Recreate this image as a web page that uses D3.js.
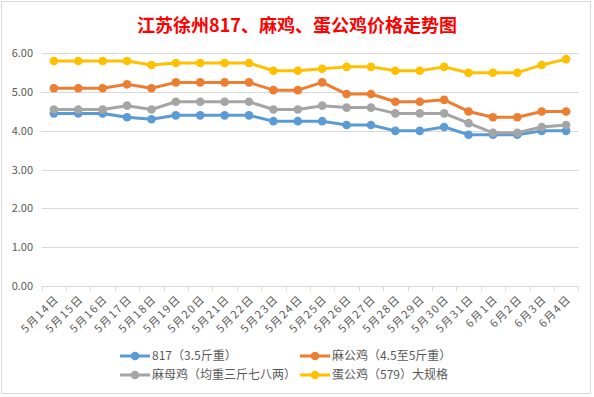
<!DOCTYPE html>
<html>
<head>
<meta charset="utf-8">
<script src="https://cdn.jsdelivr.net/npm/d3@7"></script>
<style>
  body { margin: 0; background: #fff; }
  text { font-family: "Noto Sans CJK SC", "Noto Sans", sans-serif; }
</style>
</head>
<body>
<svg width="594" height="397"></svg>
<script>
const width = 594;
const height = 397;

const title = "江苏徐州817、麻鸡、蛋公鸡价格走势图";

const dates = ["5月14日", "5月15日", "5月16日", "5月17日", "5月18日", "5月19日", "5月20日",
  "5月21日", "5月22日", "5月23日", "5月24日", "5月25日", "5月26日", "5月27日", "5月28日",
  "5月29日", "5月30日", "5月31日", "6月1日", "6月2日", "6月3日", "6月4日"];

const seriesNames = ["817（3.5斤重）", "麻公鸡（4.5至5斤重）", "麻母鸡（均重三斤七八两）", "蛋公鸡（579）大规格"];

const price817 = [4.45, 4.45, 4.45, 4.35, 4.3, 4.4, 4.4, 4.4, 4.4, 4.25, 4.25,
  4.25, 4.15, 4.15, 4.0, 4.0, 4.1, 3.9, 3.9, 3.9, 4.0, 4.0];
const priceMaGong = [5.1, 5.1, 5.1, 5.2, 5.1, 5.25, 5.25, 5.25, 5.25, 5.05, 5.05,
  5.25, 4.95, 4.95, 4.75, 4.75, 4.8, 4.5, 4.35, 4.35, 4.5, 4.5];
const priceMaMu = [4.55, 4.55, 4.55, 4.65, 4.55, 4.75, 4.75, 4.75, 4.75, 4.55, 4.55,
  4.65, 4.6, 4.6, 4.45, 4.45, 4.45, 4.2, 3.95, 3.95, 4.1, 4.15];
const priceDanGong = [5.8, 5.8, 5.8, 5.8, 5.7, 5.75, 5.75, 5.75, 5.75, 5.55, 5.55,
  5.6, 5.65, 5.65, 5.55, 5.55, 5.65, 5.5, 5.5, 5.5, 5.7, 5.85];

const yTicks = [0, 1, 2, 3, 4, 5, 6];

const allSeries = [price817, priceMaGong, priceMaMu, priceDanGong];
const colors = ["#5b9bd5", "#ed7d31", "#a5a5a5", "#ffc000"];

const svg = d3.select("svg");

// chart frame
svg.append("rect")
  .attr("x", 1.5).attr("y", 1.5)
  .attr("width", 589).attr("height", 392)
  .attr("fill", "#fff")
  .attr("stroke", "#d9d9d9");

svg.append("text")
  .attr("x", 297).attr("y", 32)
  .attr("text-anchor", "middle")
  .attr("font-size", 18)
  .attr("font-weight", "bold")
  .attr("fill", "#ff0000")
  .text(title);

const x = d3.scaleBand()
  .domain(dates)
  .range([41.7, 578.3]);

const y = d3.scaleLinear()
  .domain([0, 6])
  .range([286, 53.3]);

// gridlines
svg.append("g")
  .selectAll("line")
  .data(yTicks)
  .enter().append("line")
  .attr("x1", 41.7).attr("x2", 578.3)
  .attr("y1", d => Math.round(y(d)) + 0.5)
  .attr("y2", d => Math.round(y(d)) + 0.5)
  .attr("stroke", "#d9d9d9");

// y labels
svg.append("g")
  .selectAll("text")
  .data(yTicks)
  .enter().append("text")
  .attr("x", 33)
  .attr("y", d => y(d))
  .attr("dy", "0.35em")
  .attr("text-anchor", "end")
  .attr("font-size", 11)
  .attr("fill", "#595959")
  .text(d => d3.format(".2f")(d));

// category ticks below the axis
const tickPos = dates.map(d => x(d)).concat([x.range()[1]]);
svg.append("g")
  .selectAll("line")
  .data(tickPos)
  .enter().append("line")
  .attr("x1", d => Math.round(d) + 0.5)
  .attr("x2", d => Math.round(d) + 0.5)
  .attr("y1", 286.5).attr("y2", 291)
  .attr("stroke", "#d9d9d9");

// x labels
svg.append("g")
  .selectAll("text")
  .data(dates)
  .enter().append("text")
  .attr("transform", d => "translate(" + (x(d) + x.bandwidth() / 2 + 3) + ",297) rotate(-45)")
  .attr("text-anchor", "end")
  .attr("dy", "0.35em")
  .attr("font-size", 11)
  .attr("letter-spacing", "1.5px")
  .attr("fill", "#595959")
  .text(d => d);

// lines and markers
const line = d3.line()
  .x((d, i) => x(dates[i]) + x.bandwidth() / 2)
  .y(d => y(d));

allSeries.forEach((values, k) => {
  const g = svg.append("g");
  g.append("path")
    .datum(values)
    .attr("d", line)
    .attr("fill", "none")
    .attr("stroke", colors[k])
    .attr("stroke-width", 3)
    .attr("stroke-linejoin", "round")
    .attr("stroke-linecap", "round");
  g.selectAll("circle")
    .data(values)
    .enter().append("circle")
    .attr("cx", (d, i) => x(dates[i]) + x.bandwidth() / 2)
    .attr("cy", d => y(d))
    .attr("r", 4.3)
    .attr("fill", colors[k]);
});

// legend, two columns x two rows
const legend = svg.append("g")
  .selectAll("g")
  .data(seriesNames)
  .enter().append("g")
  .attr("transform", (d, i) => "translate(" + (i % 2 === 0 ? 120 : 300) + "," + (i < 2 ? 356 : 375) + ")");

legend.append("line")
  .attr("x1", 0).attr("x2", 30)
  .attr("stroke", (d, i) => colors[i])
  .attr("stroke-width", 3);

legend.append("circle")
  .attr("cx", 15).attr("r", 4.3)
  .attr("fill", (d, i) => colors[i]);

legend.append("text")
  .attr("x", 32)
  .attr("dy", "0.35em")
  .attr("font-size", 12)
  .attr("fill", "#595959")
  .text(d => d);
</script>
</body>
</html>
